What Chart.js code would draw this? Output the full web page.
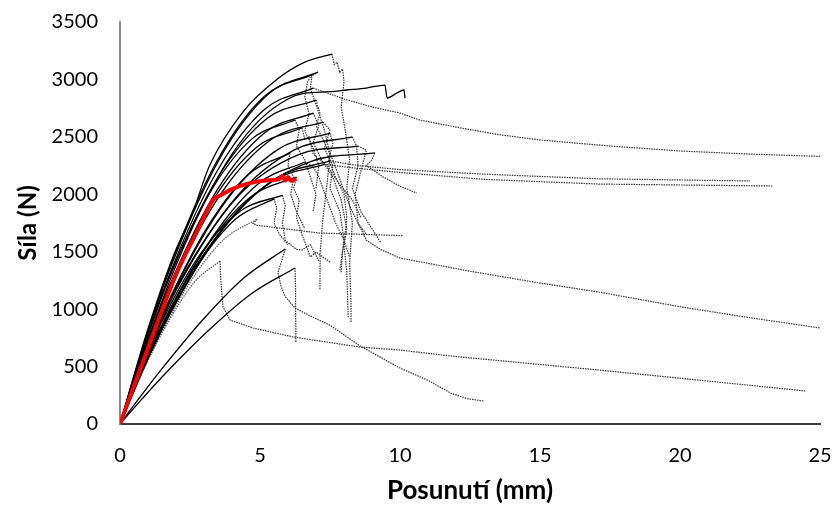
<!DOCTYPE html>
<html>
<head>
<meta charset="utf-8">
<script src="https://cdn.jsdelivr.net/npm/chart.js@4.4.0/dist/chart.umd.min.js"></script>
<style>
	html, body { margin: 0; padding: 0; background: #fff; }
	#wrap { width: 835px; height: 506px; }
</style>
</head>
<body>
<div id="wrap"><canvas id="chart"></canvas></div>
<script>
/* Síla vs. posunutí - zkušební tělesa (rise = solid, tail = dotted) */
const xTicks = [0, 5, 10, 15, 20, 25];
const yTicks = [0, 500, 1000, 1500, 2000, 2500, 3000, 3500];

const rise1 = [[0,0],[0.95,790],[1.9,1460],[2.6,1845],[3.2,2250],[4.4,2720],[5.6,3000],[6.6,3150],[7.57,3221]];
const tail1 = [[7.57,3221],[7.65,3130],[7.75,3150],[7.85,3060],[7.95,3090],[8.0,2980],[7.9,2760],[8.05,2550],[8.2,2300],[8.1,2050],[8.3,1750],[8.2,1400],[8.25,1050],[8.25,880]];
const rise2 = [[0,0],[0.88,717],[1.77,1340],[3.53,2298],[5.3,2873],[7.07,3064]];
const tail2 = [[7.07,3064],[6.85,3030],[6.8,2920],[7.0,2780],[7.3,2560],[7.5,2350],[7.4,2100],[7.25,1800],[7.15,1500],[7.14,1170]];
const rise3 = [[0,0],[0.86,700],[1.71,1320],[3.43,2275],[5.14,2850],[6.85,3040]];
const tail3 = [[6.85,3040],[6.7,2980],[6.6,2850],[6.75,2700],[6.6,2550],[6.9,2400],[7.1,2250],[7.0,2050]];
const rise4 = [[0,0],[1,740],[2,1380],[3,1920],[4,2350],[5,2650],[6,2830],[6.6,2880],[7.5,2893],[8.1,2908],[8.8,2925],[9.46,2951],[9.54,2838],[9.89,2882],[10.14,2908],[10.18,2838]];
const tail4 = [];
const rise5 = [[0,0],[0.86,684],[1.73,1280],[3.45,2194],[5.18,2742],[6.9,2925]];
const tail5 = [[6.9,2925],[8,2830],[9,2760],[10,2707],[10.7,2647],[12,2585],[13.5,2520],[15,2473],[17.5,2420],[20,2377],[22.5,2350],[25,2330]];
const rise6 = [[0,0],[0.88,685],[1.75,1269],[3.5,2149],[5.25,2659],[7.0,2820]];
const tail6 = [[7.0,2820],[7.15,2700],[7.0,2600],[7.3,2450],[7.6,2300],[7.9,2100],[8.2,1900],[8.5,1750],[8.8,1650]];
const rise7 = [[0,0],[0.86,633],[1.73,1184],[3.45,2030],[5.18,2538],[6.9,2707]];
const tail7 = [[6.9,2707],[7.1,2600],[6.9,2450],[7.2,2300],[7.6,2150],[7.9,1950],[8.1,1700],[7.95,1500],[7.9,1320]];
const rise8 = [[0,0],[0.78,614],[1.56,1154],[3.13,1980],[4.69,2478],[6.25,2647]];
const tail8 = [[6.25,2647],[6.4,2560],[6.3,2420],[6.6,2300],[6.8,2150],[7.0,2000],[6.9,1850]];
const rise9 = [[0,0],[0.91,644],[1.81,1191],[3.63,2014],[5.44,2484],[7.25,2629]];
const tail9 = [[7.25,2629],[7.5,2560],[7.3,2400],[7.6,2250],[7.5,2050],[7.85,1850],[8.0,1600],[7.85,1330]];
const rise10 = [[0,0],[0.81,594],[1.63,1118],[3.25,1922],[4.88,2410],[6.5,2577]];
const tail10 = [[6.5,2577],[6.6,2480],[6.75,2500],[6.9,2350],[7.4,2250],[7.8,2100],[8.3,1950],[8.6,1800]];
const rise11 = [[0,0],[0.94,616],[1.88,1140],[3.75,1930],[5.63,2389],[7.5,2533]];
const tail11 = [[7.5,2533],[7.6,2440],[7.45,2300],[7.7,2150],[8.0,2000],[8.1,1800],[8.0,1550],[8.1,1330],[8.15,930]];
const rise12 = [[0,0],[1.04,650],[2.08,1200],[4.15,1974],[6.23,2387],[8.3,2499]];
const tail12 = [[8.3,2499],[8.45,2420],[8.5,2250],[8.3,2050],[8.6,1850],[9.0,1700],[9.3,1584]];
const rise13 = [[0,0],[1.06,687],[2.13,1241],[4.25,1992],[6.38,2345],[8.5,2420]];
const tail13 = [[8.5,2420],[8.8,2385],[8.6,2200],[8.4,2000],[8.5,1750],[8.8,1600],[9.3,1520],[10,1445],[12.5,1330],[15,1227],[17.1,1149],[20,1021],[22.5,925],[25,836]];
const rise14 = [[0,0],[1.14,670],[2.28,1211],[4.55,1942],[6.83,2287],[9.1,2360]];
const tail14 = [[9.1,2360],[9.0,2300],[8.8,2250],[9.4,2150],[10.0,2070],[10.6,2011]];
const rise15 = [[0,0],[0.76,505],[1.52,953],[3.04,1682],[4.55,2166],[6.07,2359]];
const tail15 = [[6.07,2359],[6.0,2250],[6.2,2150],[6.1,2000],[6.3,1850],[6.6,1700]];
const rise16 = [[0,0],[0.94,536],[1.88,1002],[3.75,1718],[5.63,2147],[7.5,2290]];
const tail16 = [[7.5,2290],[8.5,2250],[10,2215],[13,2175],[17.1,2135],[22.5,2116]];
const rise17 = [[0,0],[0.91,529],[1.83,989],[3.65,1695],[5.48,2119],[7.3,2260]];
const tail17 = [[7.3,2260],[8.5,2225],[10,2190],[13,2130],[17.1,2089],[23.3,2072]];
const rise18 = [[0,0],[0.83,488],[1.65,922],[3.3,1626],[4.95,2094],[6.6,2281]];
const tail18 = [[6.6,2281],[6.9,2240],[7.1,2150],[7.4,1950],[7.7,1750],[8.0,1600],[8.2,1450]];
const rise19 = [[0,0],[0.79,482],[1.58,903],[3.15,1563],[4.73,1989],[6.3,2150]];
const tail19 = [[6.3,2150],[6.2,2050],[6.4,1950],[6.3,1800],[6.5,1650],[6.8,1454],[7.0,1497],[7.5,1410]];
const rise20 = [[0,0],[0.73,460],[1.45,868],[2.9,1490],[4.35,1863],[5.8,1990]];
const tail20 = [[5.8,1990],[5.9,1900],[5.8,1750],[5.9,1600],[6.3,1520],[6.5,1515],[6.8,1560],[7.1,1420]];
const rise21 = [[0,0],[0.69,408],[1.38,770],[2.75,1372],[4.13,1784],[5.5,1960]];
const tail21 = [[5.5,1960],[5.6,1880],[5.5,1750],[5.7,1650],[6.0,1560]];
const rise22 = [[0,0],[0.61,353],[1.23,673],[2.45,1214],[3.68,1601],[4.9,1785]];
const tail22 = [[4.9,1785],[4.75,1745],[4.9,1730],[7.1,1663],[10.1,1640]];
const rise23 = [[0,0],[0.45,258],[0.89,497],[1.79,917],[2.68,1242],[3.57,1419]];
const tail23 = [[3.57,1419],[3.6,1250],[3.68,1019],[3.93,905],[4.75,836],[6.2,757],[8.57,670],[10,644],[11.8,592],[17.1,470],[24.5,287]];
const rise24 = [[0,0],[0.74,242],[1.48,475],[2.95,905],[4.43,1273],[5.9,1524]];
const tail24 = [[5.9,1524],[5.75,1400],[5.64,1320],[5.75,1200],[5.9,1110],[6.25,1010],[6.8,940],[7.5,860],[8.57,680],[10,487],[11,380],[11.8,270],[12.4,220],[13,200]];
const rise25 = [[0,0],[0.78,216],[1.56,424],[3.13,807],[4.69,1134],[6.25,1358]];
const tail25 = [[6.25,1358],[6.27,1200],[6.27,1000],[6.28,850],[6.28,714]];

const redCurve = [[0,0],[1,660],[2,1300],[2.8,1700],[3.2,1900],[3.35,1960],[3.5,1980],[4,2045],[4.6,2095],[5.2,2120],[5.7,2135],[5.8,2160],[5.9,2120],[6.0,2150],[6.1,2118],[6.3,2135]];

const rises = [rise1, rise2, rise3, rise4, rise5, rise6, rise7, rise8, rise9, rise10, rise11, rise12, rise13,
	rise14, rise15, rise16, rise17, rise18, rise19, rise20, rise21, rise22, rise23, rise24, rise25];
const tails = [tail1, tail2, tail3, tail4, tail5, tail6, tail7, tail8, tail9, tail10, tail11, tail12, tail13,
	tail14, tail15, tail16, tail17, tail18, tail19, tail20, tail21, tail22, tail23, tail24, tail25];
const dottedRise = [22, 23]; // specimens drawn fully dotted

function pts(arr) { return arr.map(p => ({ x: p[0], y: p[1] })); }

let datasets = [{
	data: pts(redCurve),
	borderColor: '#ff0000',
	borderWidth: 4,
	cubicInterpolationMode: 'monotone',
	order: 0
}];

rises.forEach((r, i) => {
	let dotted = dottedRise.indexOf(i + 1) >= 0;
	datasets.push({
		data: pts(r),
		borderColor: dotted ? '#555555' : '#000000',
		borderWidth: dotted ? 1.2 : 1.3,
		borderDash: dotted ? [1.5, 1] : [],
		cubicInterpolationMode: 'monotone',
		order: 1
	});
});

tails.forEach(t => {
	if (!t.length) return;
	datasets.push({
		data: pts(t),
		borderColor: '#333333',
		borderWidth: 1.2,
		borderDash: [1.5, 1],
		tension: 0,
		order: 2
	});
});

const FONT = 'Lato, "Open Sans", sans-serif';

new Chart(document.getElementById('chart'), {
	type: 'scatter',
	data: { datasets: datasets },
	options: {
		responsive: true,
		maintainAspectRatio: false,
		animation: false,
		showLine: true,
		elements: { point: { radius: 0, hoverRadius: 0 } },
		layout: { autoPadding: false, padding: { left: 0, right: 15, top: 22, bottom: 0 } },
		plugins: { legend: { display: false }, tooltip: { enabled: false } },
		scales: {
			x: {
				type: 'linear', min: 0, max: 25,
				afterFit: s => { s.height = 82; s.paddingLeft = 0; s.paddingRight = 0; },
				afterBuildTicks: s => { s.ticks = xTicks.map(v => ({ value: v })); },
				grid: { display: false, drawTicks: false },
				border: { display: true, color: '#3c3c3c', width: 2 },
				ticks: { color: '#000', padding: 20, font: { family: FONT, size: 20 }, callback: v => String(v) },
				title: { display: true, text: 'Posunutí (mm)', color: '#000', padding: { top: 0, bottom: 0 },
					font: { family: FONT, size: 26, weight: 'bold' } }
			},
			y: {
				type: 'linear', min: 0, max: 3500,
				afterFit: s => { s.width = 120; s.paddingTop = 0; s.paddingBottom = 0; },
				afterBuildTicks: s => { s.ticks = yTicks.map(v => ({ value: v })); },
				grid: { display: false, drawTicks: false },
				border: { display: true, color: '#8c8c8c', width: 2 },
				ticks: { color: '#000', padding: 22, font: { family: FONT, size: 20 }, callback: v => String(v) },
				title: { display: true, text: 'Síla (N)', color: '#000', padding: { top: 14, bottom: 0 },
					font: { family: FONT, size: 24, weight: 'bold' } }
			}
		}
	}
});
</script>
</body>
</html>
